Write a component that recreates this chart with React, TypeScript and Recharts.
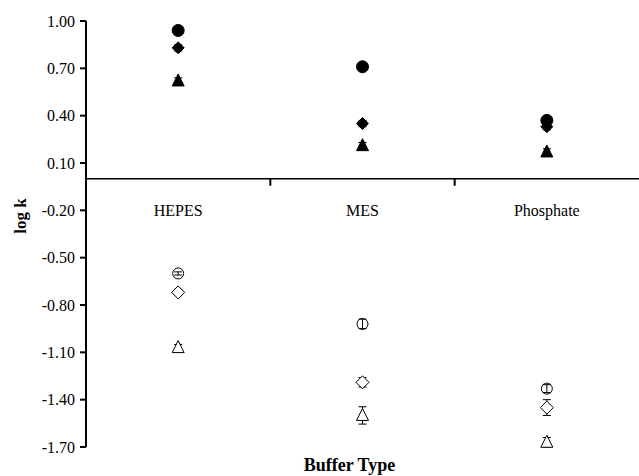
import {
  ErrorBar,
  Label,
  ReferenceLine,
  Scatter,
  ScatterChart,
  XAxis,
  YAxis
} from "recharts";

const buffers = ["HEPES", "MES", "Phosphate"];
const yTicks = [1.0, 0.7, 0.4, 0.1, -0.2, -0.5, -0.8, -1.1, -1.4, -1.7];

// log k per buffer (HEPES, MES, Phosphate)
const filledCircle = [0.94, 0.71, 0.37];
const filledDiamond = [0.83, 0.35, 0.33];
const filledTriangle = [0.62, 0.21, 0.17];
const openCircle = [-0.6, -0.92, -1.33];
const openDiamond = [-0.72, -1.29, -1.45];
const openTriangle = [-1.07, -1.5, -1.67];

// standard deviations
const filledCircleErr = [0.02, 0.02, 0.02];
const filledDiamondErr = [0.02, 0.02, 0.02];
const filledTriangleErr = [0.02, 0.02, 0.02];
const openCircleErr = [0.01, 0.03, 0.025];
const openDiamondErr = [0.02, 0.03, 0.05];
const openTriangleErr = [0.02, 0.055, 0.03];

const FONT = '"Liberation Serif", "Times New Roman", serif';

const toPoints = (values: number[], errs: number[]) =>
  values.map((v, i) => ({ x: i + 0.5, y: v, err: errs[i], buffer: buffers[i] }));

type ShapeProps = { cx?: number; cy?: number };

// open circles are hollow so the small error bars show inside them
const circle = (open: boolean) => ({ cx = 0, cy = 0 }: ShapeProps) => (
  <circle
    cx={cx}
    cy={cy}
    r={open ? 5.5 : 6}
    fill={open ? "none" : "#000"}
    stroke="#000"
    strokeWidth={1}
  />
);

const diamond = (open: boolean) => ({ cx = 0, cy = 0 }: ShapeProps) => {
  const r = open ? 6.5 : 6;
  return (
    <path
      d={`M${cx},${cy - r}L${cx + r},${cy}L${cx},${cy + r}L${cx - r},${cy}Z`}
      fill={open ? "#fff" : "#000"}
      stroke="#000"
      strokeWidth={1}
    />
  );
};

const triangle = (open: boolean) => ({ cx = 0, cy = 0 }: ShapeProps) => (
  <path
    d={`M${cx},${cy - 7}L${cx + 6},${cy + 5}L${cx - 6},${cy + 5}Z`}
    fill={open ? "#fff" : "#000"}
    stroke="#000"
    strokeWidth={1}
  />
);

// horizontal axis drawn through zero, with category dividers and names
const ZeroAxis = (props: any) => {
  const { x1, y1, x2 } = props;
  const bw = (x2 - x1) / buffers.length;
  return (
    <g>
      <line x1={x1} y1={y1} x2={x2} y2={y1} stroke="#000" strokeWidth={1.5} />
      {buffers.slice(1).map((_, i) => (
        <line
          key={`t${i}`}
          x1={x1 + bw * (i + 1)}
          x2={x1 + bw * (i + 1)}
          y1={y1}
          y2={y1 + 7}
          stroke="#000"
          strokeWidth={2}
        />
      ))}
      {buffers.map((b, i) => (
        <text
          key={b}
          x={x1 + bw * (i + 0.5)}
          y={y1 + 37}
          textAnchor="middle"
          fontSize={16}
          fontFamily={FONT}
          fill="#000"
        >
          {b}
        </text>
      ))}
    </g>
  );
};

const series = [
  { name: "filled circle", values: filledCircle, errs: filledCircleErr, shape: circle(false) },
  { name: "filled diamond", values: filledDiamond, errs: filledDiamondErr, shape: diamond(false) },
  { name: "filled triangle", values: filledTriangle, errs: filledTriangleErr, shape: triangle(false) },
  { name: "open circle", values: openCircle, errs: openCircleErr, shape: circle(true) },
  { name: "open diamond", values: openDiamond, errs: openDiamondErr, shape: diamond(true) },
  { name: "open triangle", values: openTriangle, errs: openTriangleErr, shape: triangle(true) }
];

export default function App() {
  return (
    <div style={{ position: "absolute", left: 0, top: 0, background: "#fff" }}>
      <ScatterChart
        width={639}
        height={476}
        margin={{ top: 21, right: 0, bottom: 0, left: 0 }}
        style={{ fontFamily: FONT }}
      >
        <XAxis
          type="number"
          dataKey="x"
          domain={[0, buffers.length]}
          height={29}
          tick={false}
          tickLine={false}
          axisLine={false}
        >
          <Label
            value="Buffer Type"
            position="insideBottom"
            offset={5}
            dx={-13}
            style={{ fontWeight: "bold", fontSize: 18, fill: "#000", fontFamily: FONT }}
          />
        </XAxis>
        <YAxis
          type="number"
          dataKey="y"
          width={86}
          domain={[-1.7, 1.0]}
          ticks={yTicks}
          interval={0}
          tickFormatter={(v: number) => v.toFixed(2)}
          tick={{ fill: "#000", fontSize: 16, fontFamily: FONT }}
          tickSize={6}
          tickMargin={5}
          tickLine={{ stroke: "#000", strokeWidth: 2 }}
          axisLine={{ stroke: "#000", strokeWidth: 2 }}
        >
          <Label
            content={({ viewBox }: any) => {
              const cx = 20;
              const cy = viewBox.y + viewBox.height / 2 - 18;
              return (
                <text
                  x={cx}
                  y={cy}
                  transform={`rotate(-90, ${cx}, ${cy})`}
                  textAnchor="middle"
                  dominantBaseline="central"
                  fontWeight="bold"
                  fontSize={17}
                  fontFamily={FONT}
                  fill="#000"
                >
                  log k
                </text>
              );
            }}
          />
        </YAxis>
        <ReferenceLine y={0} shape={ZeroAxis} />
        {series.map((s) => (
          <Scatter
            key={s.name}
            name={s.name}
            data={toPoints(s.values, s.errs)}
            shape={s.shape}
            isAnimationActive={false}
          >
            <ErrorBar dataKey="err" direction="y" width={4} stroke="#000" strokeWidth={1} />
          </Scatter>
        ))}
      </ScatterChart>
    </div>
  );
}
